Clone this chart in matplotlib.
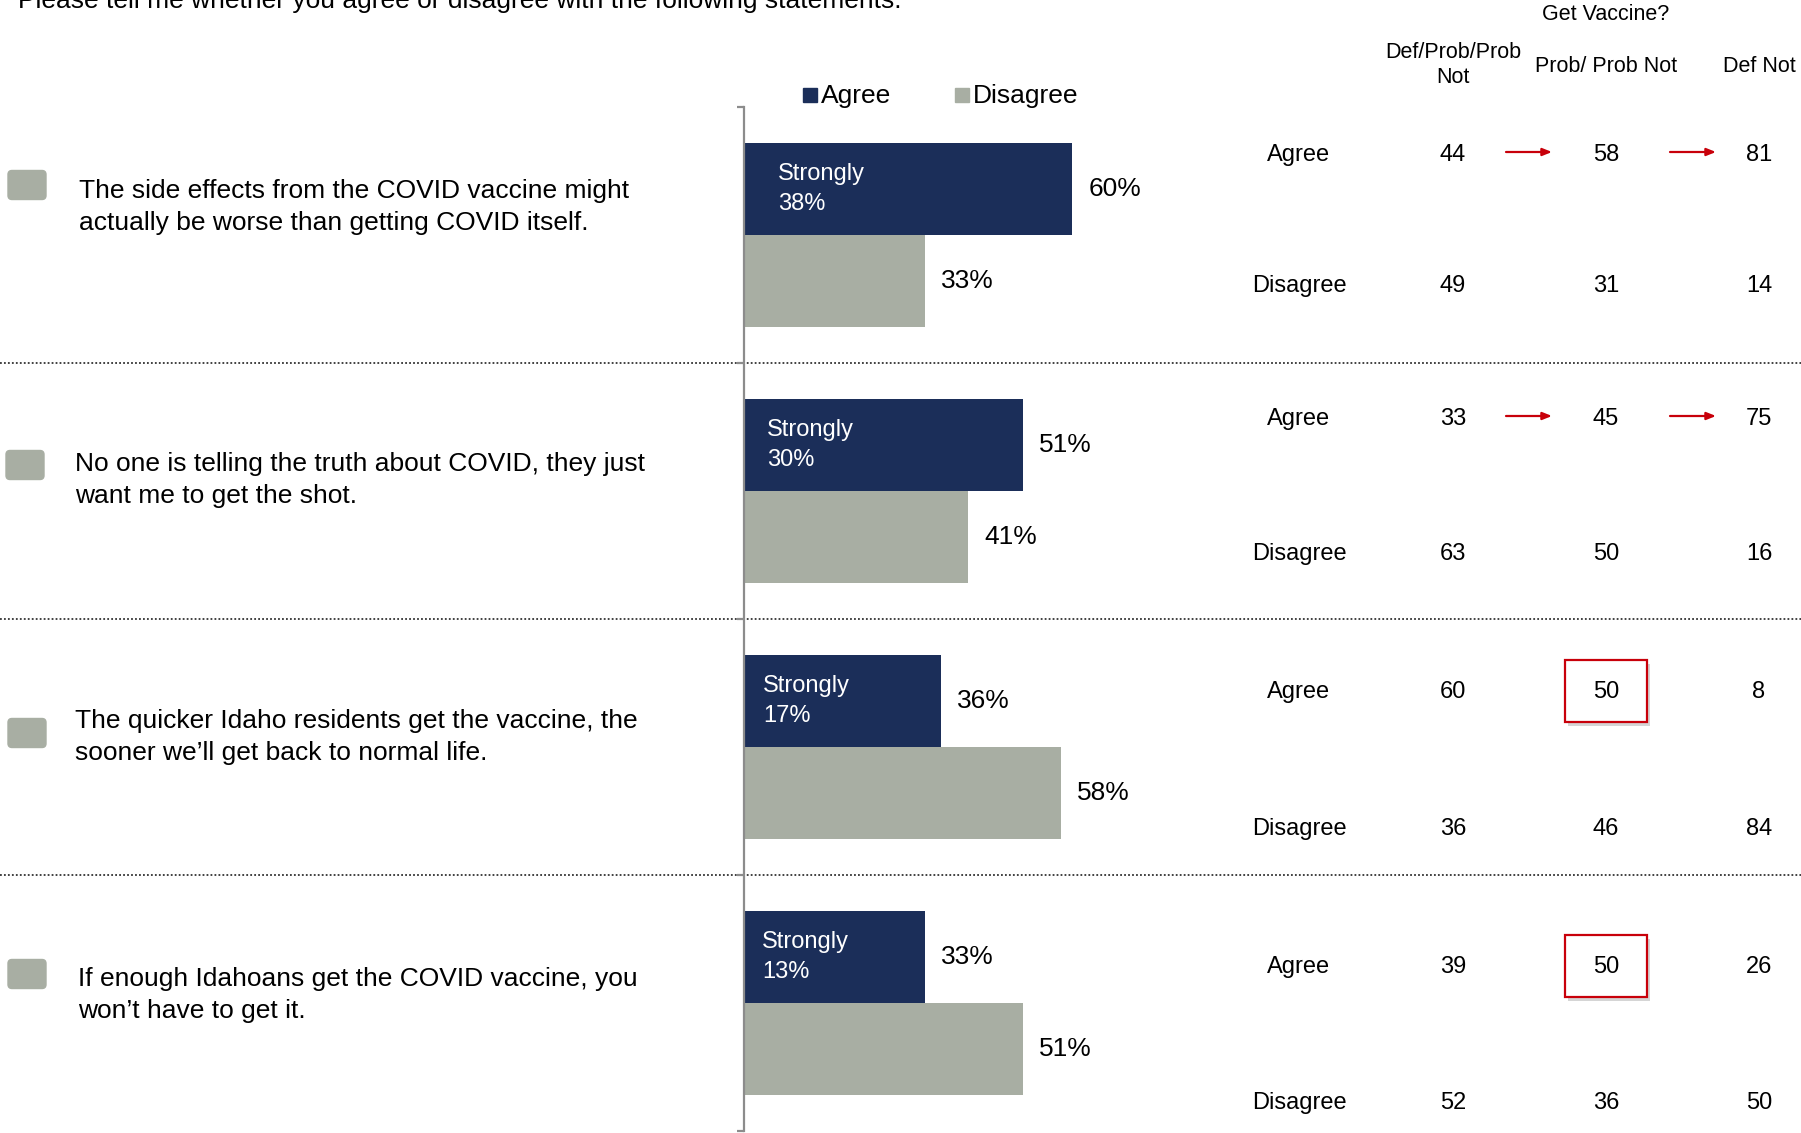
import matplotlib
matplotlib.use("Agg")
import matplotlib.pyplot as plt
from matplotlib.patches import Rectangle, FancyBboxPatch
import matplotlib.patheffects as pe

plt.rcParams['font.family'] = ['Liberation Sans', 'DejaVu Sans']

# ---- data ----
statements = [
    "The side effects from the COVID vaccine might\nactually be worse than getting COVID itself.",
    "No one is telling the truth about COVID, they just\nwant me to get the shot.",
    "The quicker Idaho residents get the vaccine, the\nsooner we\u2019ll get back to normal life.",
    "If enough Idahoans get the COVID vaccine, you\nwon\u2019t have to get it.",
]
agree = [60, 51, 36, 33]
disagree = [33, 41, 58, 51]
strongly = [38, 30, 17, 13]

table_cols = ["Def/Prob/Prob\nNot", "Prob/ Prob Not", "Def Not"]
row_labels = ["Agree", "Disagree"]
def_prob_agree = [44, 33, 60, 39]
def_prob_disagree = [49, 63, 36, 52]
prob_agree = [58, 45, 50, 50]
prob_disagree = [31, 50, 46, 36]
defnot_agree = [81, 75, 8, 26]
defnot_disagree = [14, 16, 84, 50]
arrow_groups = [0, 1]
boxed_groups = [2, 3]

NAVY = "#1b2e59"
GRAY = "#a8aea3"
RED = "#c8000a"

W, H = 1801, 1133
fig = plt.figure(figsize=(W / 100, H / 100), dpi=100)

# background axes in pixel units
bg = fig.add_axes([0, 0, 1, 1])
bg.set_xlim(0, W)
bg.set_ylim(H, 0)
bg.axis("off")

# bar axes
ax_left, ax_top, ax_bot = 744, 107, 1131
px_per_pct = 5.47
ax = fig.add_axes([ax_left / W, (H - ax_bot) / H, (W - ax_left) / W, (ax_bot - ax_top) / H])
ax.set_xlim(0, (W - ax_left) / px_per_pct)
ax.set_ylim(len(agree), 0)
ax.patch.set_visible(False)
for s in ["top", "right", "bottom"]:
    ax.spines[s].set_visible(False)
ax.spines["left"].set_color("#8c8c8c")
ax.spines["left"].set_linewidth(1.6)
ax.set_xticks([])
ax.set_yticks(range(len(agree) + 1))
ax.set_yticklabels([])
ax.tick_params(axis="y", length=5, width=1.6, color="#8c8c8c")

n = len(agree)
ya = [i + 0.32 for i in range(n)]
yd = [i + 0.68 for i in range(n)]
ax.barh(ya, agree, height=0.36, color=NAVY, edgecolor="none")
ax.barh(yd, disagree, height=0.36, color=GRAY, edgecolor="none")

strong_off = [34, 23, 19, 18]
for i in range(n):
    ax.annotate(f"{agree[i]}%", (agree[i], ya[i]), xytext=(16, 0), textcoords="offset pixels",
                ha="left", va="center", fontsize=19)
    ax.annotate(f"{disagree[i]}%", (disagree[i], yd[i]), xytext=(16, 0), textcoords="offset pixels",
                ha="left", va="center", fontsize=19)
    ax.annotate(f"Strongly\n{strongly[i]}%", (0, ya[i]), xytext=(strong_off[i], 0),
                textcoords="offset pixels", ha="left", va="center", fontsize=17,
                color="white", linespacing=1.48)

# title (cut off at top edge, as in the source slide)
bg.text(18, 8, "Please tell me whether you agree or disagree with the following statements.",
        ha="left", va="baseline", fontsize=19)

# legend
bg.add_patch(Rectangle((803, 88), 14, 14, color=NAVY))
bg.text(821, 96, "Agree", ha="left", va="center", fontsize=19)
bg.add_patch(Rectangle((955, 88), 14, 14, color=GRAY))
bg.text(973, 96, "Disagree", ha="left", va="center", fontsize=19)

# separators
for k in range(1, n):
    yk = ax_top + (ax_bot - ax_top) * k / n
    bg.plot([0, W], [yk, yk], color="#333333", lw=1.3, linestyle=(0, (1, 1.2)))

# statements with gray markers
stmt_x = [79, 75, 75, 78]
stmt_y = [207, 480, 737, 995]
mark_x = [8, 6, 8, 8]
mark_y = [185, 465, 733, 974]
for i, s in enumerate(statements):
    bg.add_patch(FancyBboxPatch((mark_x[i], mark_y[i] - 14.5), 38, 29,
                                boxstyle="round,pad=0,rounding_size=4", color=GRAY))
    bg.text(stmt_x[i], stmt_y[i], s, ha="left", va="center", fontsize=19, linespacing=1.37)

# table
col_x = [1453, 1606, 1759]
row_x = 1299
bg.text(1606, 14, "Get Vaccine?", ha="center", va="center", fontsize=15.5)
bg.text(col_x[0], 65, table_cols[0], ha="center", va="center", fontsize=15.5, linespacing=1.27)
bg.text(col_x[1], 66, table_cols[1], ha="center", va="center", fontsize=15.5)
bg.text(col_x[2], 66, table_cols[2], ha="center", va="center", fontsize=15.5)

agree_row_y = [155, 419, 692, 967]
disagree_row_y = [286, 554, 829, 1103]
for i in range(n):
    bg.text(row_x, agree_row_y[i], row_labels[0], ha="center", va="center", fontsize=17)
    bg.text(row_x, disagree_row_y[i], row_labels[1], ha="center", va="center", fontsize=17)
    for cx, va_, vd_ in zip(col_x, [def_prob_agree, prob_agree, defnot_agree],
                            [def_prob_disagree, prob_disagree, defnot_disagree]):
        bg.text(cx, agree_row_y[i], str(va_[i]), ha="center", va="center", fontsize=17)
        bg.text(cx, disagree_row_y[i], str(vd_[i]), ha="center", va="center", fontsize=17)

for g in arrow_groups:
    yy = agree_row_y[g] - 3
    for x0, x1 in [(1506, 1552), (1670, 1716)]:
        bg.annotate("", xy=(x1, yy), xytext=(x0, yy),
                    arrowprops=dict(arrowstyle="-|>,head_length=0.55,head_width=0.22",
                                    color=RED, lw=1.6, shrinkA=0, shrinkB=0))

for g in boxed_groups:
    r = Rectangle((1565, agree_row_y[g] - 32), 82, 62, facecolor="white", edgecolor=RED, lw=1.6,
                  path_effects=[pe.SimplePatchShadow(offset=(2, -3), shadow_rgbFace="#888888", alpha=0.35),
                                pe.Normal()])
    bg.add_patch(r)

fig.savefig("out.png", dpi=100)
